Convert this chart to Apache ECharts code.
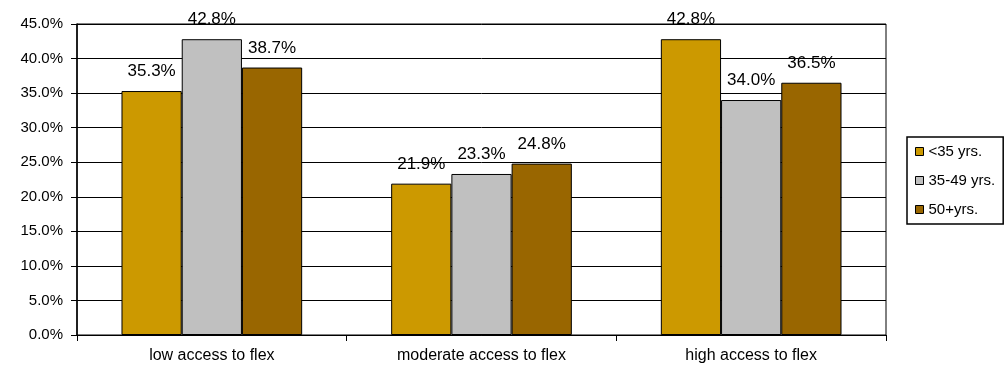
<!DOCTYPE html>
<html>
<head>
<meta charset="utf-8">
<script src="https://cdn.jsdelivr.net/npm/echarts@6/dist/echarts.min.js"></script>
<style>
  html, body { margin: 0; padding: 0; background: #fff; }
  #chart { width: 1008px; height: 370px; }
</style>
</head>
<body>
<div id="chart"></div>
<script>
// categories along the x axis
const categories = ['low access to flex', 'moderate access to flex', 'high access to flex'];

// share of respondents (%) per age group
const under35 = [35.3, 21.9, 42.8];
const age35to49 = [42.8, 23.3, 34.0];
const age50plus = [38.7, 24.8, 36.5];

const seriesNames = ['<35 yrs.', '35-49 yrs.', '50+yrs.'];
const seriesColors = ['#CC9900', '#C0C0C0', '#996600'];

const FONT = 'Liberation Sans, Arial, sans-serif';

const chart = echarts.init(document.getElementById('chart'), null, { renderer: 'canvas' });

const makeSeries = (name, data, color) => ({
    name: name,
    type: 'bar',
    data: data,
    barGap: '0%',
    barCategoryGap: '33%',
    itemStyle: {
        color: color,
        borderColor: '#000',
        borderWidth: 1,
    },
    label: {
        show: true,
        position: 'top',
        distance: 11,
        color: '#000',
        fontFamily: FONT,
        fontSize: 17,
        formatter: (p) => p.value.toFixed(1) + '%',
    },
    emphasis: { disabled: true },
});

const option = {
    animation: false,
    backgroundColor: '#fff',
    grid: {
        left: 77,
        right: 122,
        top: 24,
        bottom: 35,
        show: true,
        borderColor: '#000',
        borderWidth: 1,
        backgroundColor: 'transparent',
    },
    legend: {
        orient: 'vertical',
        left: 907,
        top: 137,
        itemWidth: 8,
        itemHeight: 8,
        itemGap: 14,
        padding: [7, 8, 7, 8],
        borderColor: '#000',
        borderWidth: 1.5,
        backgroundColor: '#fff',
        icon: 'rect',
        textStyle: {
            fontFamily: FONT,
            fontSize: 15,
            color: '#000',
        },
        data: seriesNames.map((n, i) => ({
            name: n,
            itemStyle: { color: seriesColors[i], borderColor: '#000', borderWidth: 1 },
        })),
    },
    xAxis: {
        type: 'category',
        data: categories,
        axisLine: { lineStyle: { color: '#000', width: 1 } },
        axisTick: { show: true, alignWithLabel: false, length: 6, lineStyle: { color: '#000' } },
        axisLabel: {
            color: '#000',
            fontFamily: FONT,
            fontSize: 16,
            margin: 13,
        },
    },
    yAxis: {
        type: 'value',
        min: 0,
        max: 45,
        interval: 5,
        axisLine: { show: true, lineStyle: { color: '#000', width: 1.5 } },
        axisTick: { show: true, length: 6, lineStyle: { color: '#000' } },
        splitLine: { show: true, lineStyle: { color: '#000', width: 1 } },
        axisLabel: {
            color: '#000',
            fontFamily: FONT,
            fontSize: 15,
            margin: 14,
            formatter: (v) => v.toFixed(1) + '%',
        },
    },
    series: [
        makeSeries(seriesNames[0], under35, seriesColors[0]),
        makeSeries(seriesNames[1], age35to49, seriesColors[1]),
        makeSeries(seriesNames[2], age50plus, seriesColors[2]),
    ],
};

chart.setOption(option);
</script>
</body>
</html>
